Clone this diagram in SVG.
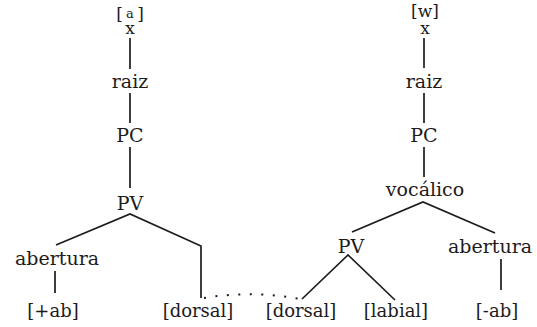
<svg xmlns="http://www.w3.org/2000/svg" width="537" height="327" viewBox="0 0 537 327">
<style>
text{font-family:"DejaVu Serif","Liberation Serif",serif;fill:#1e1b1c;text-anchor:middle}
.w{font-size:19px}
.b{font-size:18px}
.s{font-size:17px}
.e{stroke:#1e1b1c;stroke-width:1.7;fill:none}
.dot{stroke:#1e1b1c;stroke-width:2;fill:none;stroke-dasharray:2 9.5;stroke-linecap:butt}
</style>
<rect width="537" height="327" fill="#fff"/>
<g id="connectors">
<path class="e" d="M130,38V69M130,93V123M130,147V188M56,245L130,214L201,246V298M55,271V293"/>
<path class="e" d="M424,38V68M424,93V123M424,147V177M352,232L423,202L495,233M302,299L348,255L395,300M501,259V290"/>
<path class="dot" d="M204,298Q252,290 300,299"/>
</g>
<g id="n-x1"><text class="s" x="119.5" y="20">[</text><text x="130" y="17.5" style="font-size:13px">a</text><text class="s" x="140.5" y="20">]</text><text class="s" x="130" y="34">x</text></g>
<g id="n-raiz1"><text class="w" x="130" y="88">raiz</text></g>
<g id="n-pc1"><text class="w" x="130" y="142">PC</text></g>
<g id="n-pv1"><text class="w" x="130" y="210">PV</text></g>
<g id="n-ab1"><text class="w" x="57" y="265">abertura</text></g>
<g id="n-plusab"><text class="b" x="53" y="317">[+ab]</text></g>
<g id="n-dorsal1"><text class="b" x="198" y="317">[dorsal]</text></g>
<g id="n-x2"><text class="s" x="425" y="17">[w]</text><text class="s" x="425" y="34">x</text></g>
<g id="n-raiz2"><text class="w" x="424" y="88">raiz</text></g>
<g id="n-pc2"><text class="w" x="424" y="142">PC</text></g>
<g id="n-voc"><text class="w" x="425" y="196">vocálico</text></g>
<g id="n-pv2"><text class="w" x="351" y="253">PV</text></g>
<g id="n-ab2"><text class="w" x="490" y="253">abertura</text></g>
<g id="n-dorsal2"><text class="b" x="301" y="317">[dorsal]</text></g>
<g id="n-labial"><text class="b" x="396" y="317">[labial]</text></g>
<g id="n-minusab"><text class="b" x="497" y="317">[-ab]</text></g>
</svg>
